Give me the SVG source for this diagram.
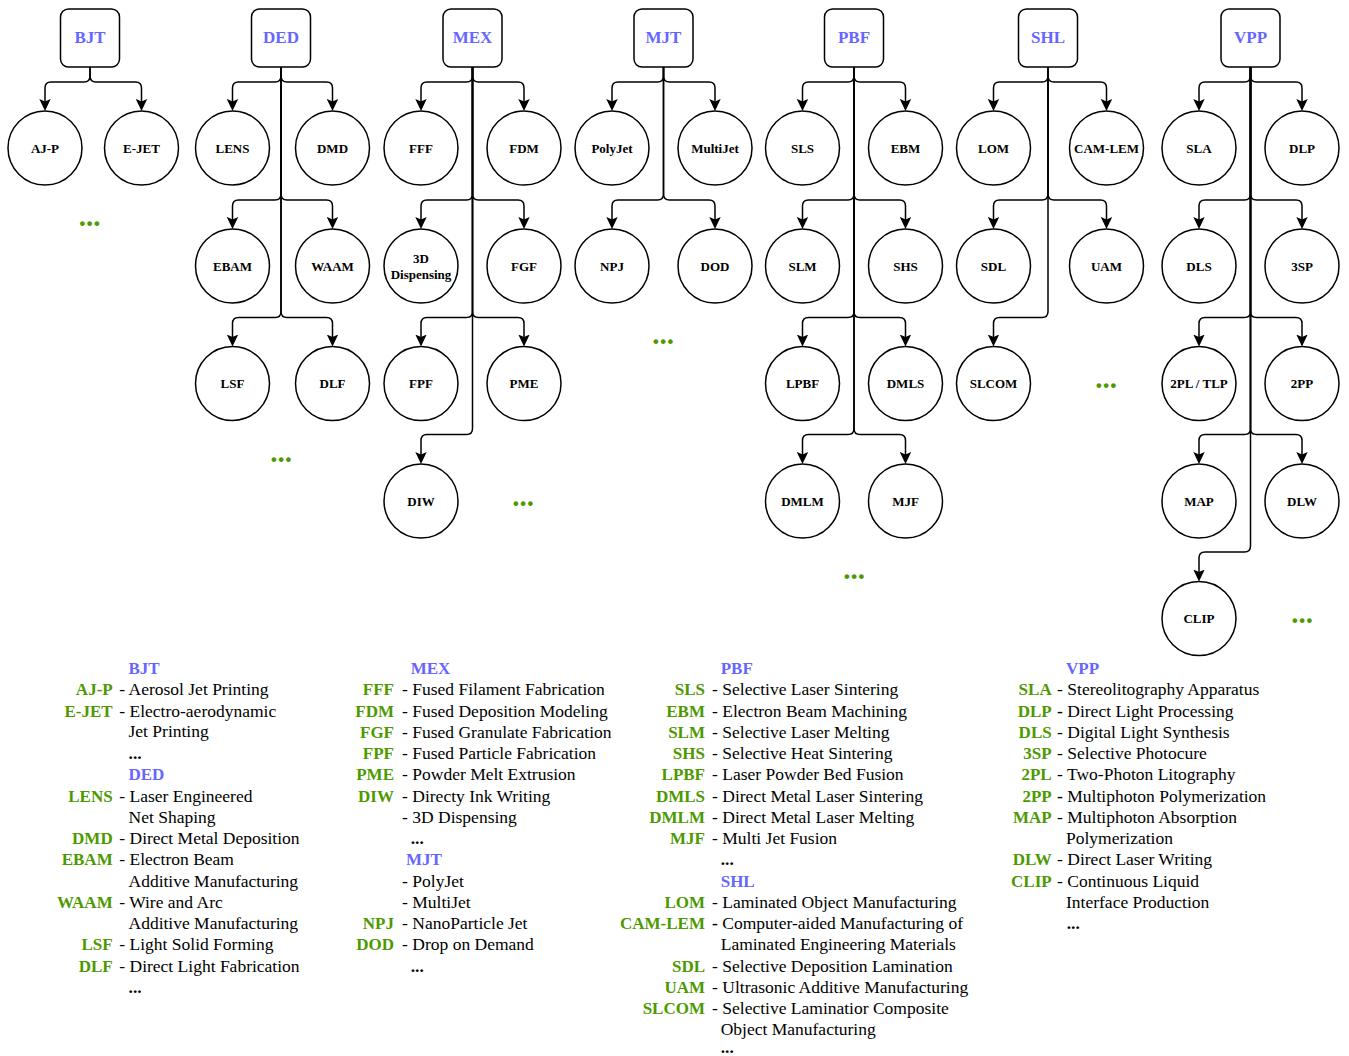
<svg xmlns="http://www.w3.org/2000/svg" width="1349" height="1056" viewBox="0 0 1349 1056">
<style>
.box{fill:#fff;stroke:#000;stroke-width:1.5}
.cir{fill:#fff;stroke:#000;stroke-width:1.5}
.bt{font-family:"Liberation Serif","Times New Roman",serif;font-weight:bold;font-size:17px;fill:#6666FF;text-anchor:middle}
.nt{font-family:"Liberation Serif","Times New Roman",serif;font-weight:bold;font-size:13px;fill:#000;text-anchor:middle}
.dots{font-family:"Liberation Serif","Times New Roman",serif;font-weight:bold;font-size:29px;fill:#4D9900;text-anchor:middle}
.e{fill:none;stroke:#000;stroke-width:1.5;marker-end:url(#ah)}
.lt{font-family:"Liberation Serif","Times New Roman",serif;font-weight:bold;font-size:17px;fill:#6666FF}
.ab{font-family:"Liberation Serif","Times New Roman",serif;font-weight:bold;font-size:17px;fill:#4D9900;text-anchor:end}
.d{font-family:"Liberation Serif","Times New Roman",serif;font-size:17.5px;fill:#000}
.ld{font-family:"Liberation Serif","Times New Roman",serif;font-weight:bold;font-size:17.5px;fill:#000}
.bd{font-weight:bold}
</style>
<defs>
<marker id="ah" viewBox="0 0 12 12" refX="8" refY="6" markerWidth="12" markerHeight="12" markerUnits="userSpaceOnUse" orient="auto">
<path d="M0,0.3 L12,6 L0,11.7 L2.5,6 Z" fill="#000"/>
</marker>
</defs>
<rect width="1349" height="1056" fill="#fff"/>

<g id="connectors">
<!-- BJT -->
<path class="e" d="M90 67 V76 Q90 82 84 82 H51 Q45 82 45 88 V107"/>
<path class="e" d="M90 67 V76 Q90 82 96 82 H135.5 Q141.5 82 141.5 88 V107"/>
<!-- DED -->
<path class="e" d="M281 67 V76 Q281 82 275 82 H238.5 Q232.5 82 232.5 88 V107"/>
<path class="e" d="M281 67 V76 Q281 82 287 82 H326.5 Q332.5 82 332.5 88 V107"/>
<path class="e" d="M281 67 V194 Q281 200 275 200 H238.5 Q232.5 200 232.5 206 V225"/>
<path class="e" d="M281 67 V194 Q281 200 287 200 H326.5 Q332.5 200 332.5 206 V225"/>
<path class="e" d="M281 67 V311.5 Q281 317.5 275 317.5 H238.5 Q232.5 317.5 232.5 323.5 V342.5"/>
<path class="e" d="M281 67 V311.5 Q281 317.5 287 317.5 H326.5 Q332.5 317.5 332.5 323.5 V342.5"/>
<!-- MEX -->
<path class="e" d="M472.5 67 V76 Q472.5 82 466.5 82 H427 Q421 82 421 88 V107"/>
<path class="e" d="M472.5 67 V76 Q472.5 82 478.5 82 H518 Q524 82 524 88 V107"/>
<path class="e" d="M472.5 67 V194 Q472.5 200 466.5 200 H427 Q421 200 421 206 V225"/>
<path class="e" d="M472.5 67 V194 Q472.5 200 478.5 200 H518 Q524 200 524 206 V225"/>
<path class="e" d="M472.5 67 V311.5 Q472.5 317.5 466.5 317.5 H427 Q421 317.5 421 323.5 V342.5"/>
<path class="e" d="M472.5 67 V311.5 Q472.5 317.5 478.5 317.5 H518 Q524 317.5 524 323.5 V342.5"/>
<path class="e" d="M472.5 67 V428.5 Q472.5 434.5 466.5 434.5 H427 Q421 434.5 421 440.5 V460"/>
<!-- MJT -->
<path class="e" d="M663.5 67 V76 Q663.5 82 657.5 82 H618 Q612 82 612 88 V107"/>
<path class="e" d="M663.5 67 V76 Q663.5 82 669.5 82 H709 Q715 82 715 88 V107"/>
<path class="e" d="M663.5 67 V194 Q663.5 200 657.5 200 H618 Q612 200 612 206 V225"/>
<path class="e" d="M663.5 67 V194 Q663.5 200 669.5 200 H709 Q715 200 715 206 V225"/>
<!-- PBF -->
<path class="e" d="M854 67 V76 Q854 82 848 82 H808.5 Q802.5 82 802.5 88 V107"/>
<path class="e" d="M854 67 V76 Q854 82 860 82 H899.5 Q905.5 82 905.5 88 V107"/>
<path class="e" d="M854 67 V194 Q854 200 848 200 H808.5 Q802.5 200 802.5 206 V225"/>
<path class="e" d="M854 67 V194 Q854 200 860 200 H899.5 Q905.5 200 905.5 206 V225"/>
<path class="e" d="M854 67 V311.5 Q854 317.5 848 317.5 H808.5 Q802.5 317.5 802.5 323.5 V342.5"/>
<path class="e" d="M854 67 V311.5 Q854 317.5 860 317.5 H899.5 Q905.5 317.5 905.5 323.5 V342.5"/>
<path class="e" d="M854 67 V428.5 Q854 434.5 848 434.5 H808.5 Q802.5 434.5 802.5 440.5 V460"/>
<path class="e" d="M854 67 V428.5 Q854 434.5 860 434.5 H899.5 Q905.5 434.5 905.5 440.5 V460"/>
<!-- SHL -->
<path class="e" d="M1048 67 V76 Q1048 82 1042 82 H999.5 Q993.5 82 993.5 88 V107"/>
<path class="e" d="M1048 67 V76 Q1048 82 1054 82 H1100.5 Q1106.5 82 1106.5 88 V107"/>
<path class="e" d="M1048 67 V194 Q1048 200 1042 200 H999.5 Q993.5 200 993.5 206 V225"/>
<path class="e" d="M1048 67 V194 Q1048 200 1054 200 H1100.5 Q1106.5 200 1106.5 206 V225"/>
<path class="e" d="M1048 67 V311.5 Q1048 317.5 1042 317.5 H999.5 Q993.5 317.5 993.5 323.5 V342.5"/>
<!-- VPP -->
<path class="e" d="M1250.5 67 V76 Q1250.5 82 1244.5 82 H1205 Q1199 82 1199 88 V107"/>
<path class="e" d="M1250.5 67 V76 Q1250.5 82 1256.5 82 H1296 Q1302 82 1302 88 V107"/>
<path class="e" d="M1250.5 67 V194 Q1250.5 200 1244.5 200 H1205 Q1199 200 1199 206 V225"/>
<path class="e" d="M1250.5 67 V194 Q1250.5 200 1256.5 200 H1296 Q1302 200 1302 206 V225"/>
<path class="e" d="M1250.5 67 V311.5 Q1250.5 317.5 1244.5 317.5 H1205 Q1199 317.5 1199 323.5 V342.5"/>
<path class="e" d="M1250.5 67 V311.5 Q1250.5 317.5 1256.5 317.5 H1296 Q1302 317.5 1302 323.5 V342.5"/>
<path class="e" d="M1250.5 67 V428.5 Q1250.5 434.5 1244.5 434.5 H1205 Q1199 434.5 1199 440.5 V460"/>
<path class="e" d="M1250.5 67 V428.5 Q1250.5 434.5 1256.5 434.5 H1296 Q1302 434.5 1302 440.5 V460"/>
<path class="e" d="M1250.5 67 V546 Q1250.5 552 1244.5 552 H1205 Q1199 552 1199 558 V577.5"/>
</g>

<!-- Category boxes -->
<g id="BJT"><rect class="box" x="60.5" y="9" width="59" height="58" rx="8"/><text class="bt" x="90" y="43">BJT</text></g>
<g id="DED"><rect class="box" x="251.5" y="9" width="59" height="58" rx="8"/><text class="bt" x="281" y="43">DED</text></g>
<g id="MEX"><rect class="box" x="443" y="9" width="59" height="58" rx="8"/><text class="bt" x="472.5" y="43">MEX</text></g>
<g id="MJT"><rect class="box" x="634" y="9" width="59" height="58" rx="8"/><text class="bt" x="663.5" y="43">MJT</text></g>
<g id="PBF"><rect class="box" x="824.5" y="9" width="59" height="58" rx="8"/><text class="bt" x="854" y="43">PBF</text></g>
<g id="SHL"><rect class="box" x="1018.5" y="9" width="59" height="58" rx="8"/><text class="bt" x="1048" y="43">SHL</text></g>
<g id="VPP"><rect class="box" x="1221" y="9" width="59" height="58" rx="8"/><text class="bt" x="1250.5" y="43">VPP</text></g>

<!-- BJT children -->
<g id="AJ-P"><circle class="cir" cx="45" cy="148" r="37"/><text class="nt" x="45" y="152.5">AJ-P</text></g>
<g id="E-JET"><circle class="cir" cx="141.5" cy="148" r="37"/><text class="nt" x="141.5" y="152.5">E-JET</text></g>
<!-- DED children -->
<g id="LENS"><circle class="cir" cx="232.5" cy="148" r="37"/><text class="nt" x="232.5" y="152.5">LENS</text></g>
<g id="DMD"><circle class="cir" cx="332.5" cy="148" r="37"/><text class="nt" x="332.5" y="152.5">DMD</text></g>
<g id="EBAM"><circle class="cir" cx="232.5" cy="266" r="37"/><text class="nt" x="232.5" y="270.5">EBAM</text></g>
<g id="WAAM"><circle class="cir" cx="332.5" cy="266" r="37"/><text class="nt" x="332.5" y="270.5">WAAM</text></g>
<g id="LSF"><circle class="cir" cx="232.5" cy="383.5" r="37"/><text class="nt" x="232.5" y="388">LSF</text></g>
<g id="DLF"><circle class="cir" cx="332.5" cy="383.5" r="37"/><text class="nt" x="332.5" y="388">DLF</text></g>
<!-- MEX children -->
<g id="FFF"><circle class="cir" cx="421" cy="148" r="37"/><text class="nt" x="421" y="152.5">FFF</text></g>
<g id="FDM"><circle class="cir" cx="524" cy="148" r="37"/><text class="nt" x="524" y="152.5">FDM</text></g>
<g id="3D-Dispensing"><circle class="cir" cx="421" cy="266" r="37"/><text class="nt" x="421" y="262.5">3D</text><text class="nt" x="421" y="278.5">Dispensing</text></g>
<g id="FGF"><circle class="cir" cx="524" cy="266" r="37"/><text class="nt" x="524" y="270.5">FGF</text></g>
<g id="FPF"><circle class="cir" cx="421" cy="383.5" r="37"/><text class="nt" x="421" y="388">FPF</text></g>
<g id="PME"><circle class="cir" cx="524" cy="383.5" r="37"/><text class="nt" x="524" y="388">PME</text></g>
<g id="DIW"><circle class="cir" cx="421" cy="501" r="37"/><text class="nt" x="421" y="505.5">DIW</text></g>
<!-- MJT children -->
<g id="PolyJet"><circle class="cir" cx="612" cy="148" r="37"/><text class="nt" x="612" y="152.5">PolyJet</text></g>
<g id="MultiJet"><circle class="cir" cx="715" cy="148" r="37"/><text class="nt" x="715" y="152.5">MultiJet</text></g>
<g id="NPJ"><circle class="cir" cx="612" cy="266" r="37"/><text class="nt" x="612" y="270.5">NPJ</text></g>
<g id="DOD"><circle class="cir" cx="715" cy="266" r="37"/><text class="nt" x="715" y="270.5">DOD</text></g>
<!-- PBF children -->
<g id="SLS"><circle class="cir" cx="802.5" cy="148" r="37"/><text class="nt" x="802.5" y="152.5">SLS</text></g>
<g id="EBM"><circle class="cir" cx="905.5" cy="148" r="37"/><text class="nt" x="905.5" y="152.5">EBM</text></g>
<g id="SLM"><circle class="cir" cx="802.5" cy="266" r="37"/><text class="nt" x="802.5" y="270.5">SLM</text></g>
<g id="SHS"><circle class="cir" cx="905.5" cy="266" r="37"/><text class="nt" x="905.5" y="270.5">SHS</text></g>
<g id="LPBF"><circle class="cir" cx="802.5" cy="383.5" r="37"/><text class="nt" x="802.5" y="388">LPBF</text></g>
<g id="DMLS"><circle class="cir" cx="905.5" cy="383.5" r="37"/><text class="nt" x="905.5" y="388">DMLS</text></g>
<g id="DMLM"><circle class="cir" cx="802.5" cy="501" r="37"/><text class="nt" x="802.5" y="505.5">DMLM</text></g>
<g id="MJF"><circle class="cir" cx="905.5" cy="501" r="37"/><text class="nt" x="905.5" y="505.5">MJF</text></g>
<!-- SHL children -->
<g id="LOM"><circle class="cir" cx="993.5" cy="148" r="37"/><text class="nt" x="993.5" y="152.5">LOM</text></g>
<g id="CAM-LEM"><circle class="cir" cx="1106.5" cy="148" r="37"/><text class="nt" x="1106.5" y="152.5">CAM-LEM</text></g>
<g id="SDL"><circle class="cir" cx="993.5" cy="266" r="37"/><text class="nt" x="993.5" y="270.5">SDL</text></g>
<g id="UAM"><circle class="cir" cx="1106.5" cy="266" r="37"/><text class="nt" x="1106.5" y="270.5">UAM</text></g>
<g id="SLCOM"><circle class="cir" cx="993.5" cy="383.5" r="37"/><text class="nt" x="993.5" y="388">SLCOM</text></g>
<!-- VPP children -->
<g id="SLA"><circle class="cir" cx="1199" cy="148" r="37"/><text class="nt" x="1199" y="152.5">SLA</text></g>
<g id="DLP"><circle class="cir" cx="1302" cy="148" r="37"/><text class="nt" x="1302" y="152.5">DLP</text></g>
<g id="DLS"><circle class="cir" cx="1199" cy="266" r="37"/><text class="nt" x="1199" y="270.5">DLS</text></g>
<g id="3SP"><circle class="cir" cx="1302" cy="266" r="37"/><text class="nt" x="1302" y="270.5">3SP</text></g>
<g id="2PL-TLP"><circle class="cir" cx="1199" cy="383.5" r="37"/><text class="nt" x="1199" y="388">2PL / TLP</text></g>
<g id="2PP"><circle class="cir" cx="1302" cy="383.5" r="37"/><text class="nt" x="1302" y="388">2PP</text></g>
<g id="MAP"><circle class="cir" cx="1199" cy="501" r="37"/><text class="nt" x="1199" y="505.5">MAP</text></g>
<g id="DLW"><circle class="cir" cx="1302" cy="501" r="37"/><text class="nt" x="1302" y="505.5">DLW</text></g>
<g id="CLIP"><circle class="cir" cx="1199" cy="618.5" r="37"/><text class="nt" x="1199" y="623">CLIP</text></g>

<!-- ellipsis markers -->
<g id="more">
<text class="dots" x="89.7" y="226">...</text>
<text class="dots" x="281" y="461.5">...</text>
<text class="dots" x="523" y="505.5">...</text>
<text class="dots" x="663" y="344">...</text>
<text class="dots" x="854" y="579">...</text>
<text class="dots" x="1106" y="388">...</text>
<text class="dots" x="1302" y="623">...</text>
</g>

<!-- Legend column 1 -->
<g id="legend-1">
<text class="lt" x="128.5" y="674">BJT</text>
<text class="ab" x="112.7" y="695.25">AJ-P</text><text class="d" x="119.3" y="695.25">- Aerosol Jet Printing</text>
<text class="ab" x="112.7" y="716.5">E-JET</text><text class="d" x="119.3" y="716.5">- Electro-aerodynamic</text>
<text class="d" x="128.5" y="736.5">Jet Printing</text>
<text class="ld" x="128.5" y="759">...</text>
<text class="lt" x="128.5" y="780.25">DED</text>
<text class="ab" x="112.7" y="801.5">LENS</text><text class="d" x="119.3" y="801.5">- Laser Engineered</text>
<text class="d" x="128.5" y="822.75">Net Shaping</text>
<text class="ab" x="112.7" y="844">DMD</text><text class="d" x="119.3" y="844">- Direct Metal Deposition</text>
<text class="ab" x="112.7" y="865.25">EBAM</text><text class="d" x="119.3" y="865.25">- Electron Beam</text>
<text class="d" x="128.5" y="886.5">Additive Manufacturing</text>
<text class="ab" x="112.7" y="907.75">WAAM</text><text class="d" x="119.3" y="907.75">- Wire and Arc</text>
<text class="d" x="128.5" y="929">Additive Manufacturing</text>
<text class="ab" x="112.7" y="950.25">LSF</text><text class="d" x="119.3" y="950.25">- Light Solid Forming</text>
<text class="ab" x="112.7" y="971.5">DLF</text><text class="d" x="119.3" y="971.5">- Direct Light Fabrication</text>
<text class="ld" x="128.5" y="992.75">...</text>
</g>

<!-- Legend column 2 -->
<g id="legend-2">
<text class="lt" x="410.7" y="674">MEX</text>
<text class="ab" x="394" y="695.25">FFF</text><text class="d" x="402.1" y="695.25">- Fused Filament Fabrication</text>
<text class="ab" x="394" y="716.5">FDM</text><text class="d" x="402.1" y="716.5">- Fused Deposition Modeling</text>
<text class="ab" x="394" y="737.75">FGF</text><text class="d" x="402.1" y="737.75">- Fused Granulate Fabrication</text>
<text class="ab" x="394" y="759">FPF</text><text class="d" x="402.1" y="759">- Fused Particle Fabrication</text>
<text class="ab" x="394" y="780.25">PME</text><text class="d" x="402.1" y="780.25">- Powder Melt Extrusion</text>
<text class="ab" x="394" y="801.5">DIW</text><text class="d" x="402.1" y="801.5">- Directy Ink Writing</text>
<text class="d" x="402.1" y="822.75">- 3D Dispensing</text>
<text class="ld" x="410.7" y="844">...</text>
<text class="lt" x="406" y="865.25">MJT</text>
<text class="d" x="402.1" y="886.5">- PolyJet</text>
<text class="d" x="402.1" y="907.75">- MultiJet</text>
<text class="ab" x="394" y="929">NPJ</text><text class="d" x="402.1" y="929">- NanoParticle Jet</text>
<text class="ab" x="394" y="950.25">DOD</text><text class="d" x="402.1" y="950.25">- Drop on Demand</text>
<text class="ld" x="410.7" y="971.5">...</text>
</g>

<!-- Legend column 3 -->
<g id="legend-3">
<text class="lt" x="720.7" y="674">PBF</text>
<text class="ab" x="705" y="695.25">SLS</text><text class="d" x="712.1" y="695.25">- Selective Laser Sintering</text>
<text class="ab" x="705" y="716.5">EBM</text><text class="d" x="712.1" y="716.5">- Electron Beam Machining</text>
<text class="ab" x="705" y="737.75">SLM</text><text class="d" x="712.1" y="737.75">- Selective Laser Melting</text>
<text class="ab" x="705" y="759">SHS</text><text class="d" x="712.1" y="759">- Selective Heat Sintering</text>
<text class="ab" x="705" y="780.25">LPBF</text><text class="d" x="712.1" y="780.25">- Laser Powder Bed Fusion</text>
<text class="ab" x="705" y="801.5">DMLS</text><text class="d" x="712.1" y="801.5">- Direct Metal Laser Sintering</text>
<text class="ab" x="705" y="822.75">DMLM</text><text class="d" x="712.1" y="822.75">- Direct Metal Laser Melting</text>
<text class="ab" x="705" y="844">MJF</text><text class="d" x="712.1" y="844">- Multi Jet Fusion</text>
<text class="ld" x="720.7" y="865.25">...</text>
<text class="lt" x="720.7" y="886.5">SHL</text>
<text class="ab" x="705" y="907.75">LOM</text><text class="d" x="712.1" y="907.75">- Laminated Object Manufacturing</text>
<text class="ab" x="705" y="929">CAM-LEM</text><text class="d" x="712.1" y="929"><tspan class="bd">-</tspan> Computer-aided Manufacturing of</text>
<text class="d" x="720.7" y="950.25">Laminated Engineering Materials</text>
<text class="ab" x="705" y="971.5">SDL</text><text class="d" x="712.1" y="971.5">- Selective Deposition Lamination</text>
<text class="ab" x="705" y="992.75">UAM</text><text class="d" x="712.1" y="992.75">- Ultrasonic Additive Manufacturing</text>
<text class="ab" x="705" y="1014">SLCOM</text><text class="d" x="712.1" y="1014">- Selective Laminatior Composite</text>
<text class="d" x="720.7" y="1035.25">Object Manufacturing</text>
<text class="ld" x="720.7" y="1053">...</text>
</g>

<!-- Legend column 4 -->
<g id="legend-4">
<text class="lt" x="1066" y="674">VPP</text>
<text class="ab" x="1051.7" y="695.25">SLA</text><text class="d" x="1057.1" y="695.25">- Stereolitography Apparatus</text>
<text class="ab" x="1051.7" y="716.5">DLP</text><text class="d" x="1057.1" y="716.5"><tspan class="bd">-</tspan> Direct Light Processing</text>
<text class="ab" x="1051.7" y="737.75">DLS</text><text class="d" x="1057.1" y="737.75">- Digital Light Synthesis</text>
<text class="ab" x="1051.7" y="759">3SP</text><text class="d" x="1057.1" y="759">- Selective Photocure</text>
<text class="ab" x="1051.7" y="780.25">2PL</text><text class="d" x="1057.1" y="780.25">- Two-Photon Litography</text>
<text class="ab" x="1051.7" y="801.5">2PP</text><text class="d" x="1057.1" y="801.5"><tspan class="bd">-</tspan> Multiphoton Polymerization</text>
<text class="ab" x="1051.7" y="822.75">MAP</text><text class="d" x="1057.1" y="822.75">- Multiphoton Absorption</text>
<text class="d" x="1066" y="844">Polymerization</text>
<text class="ab" x="1051.7" y="865.25">DLW</text><text class="d" x="1057.1" y="865.25">- Direct Laser Writing</text>
<text class="ab" x="1051.7" y="886.5">CLIP</text><text class="d" x="1057.1" y="886.5">- Continuous Liquid</text>
<text class="d" x="1066" y="907.75">Interface Production</text>
<text class="ld" x="1066.7" y="929">...</text>
</g>
</svg>
